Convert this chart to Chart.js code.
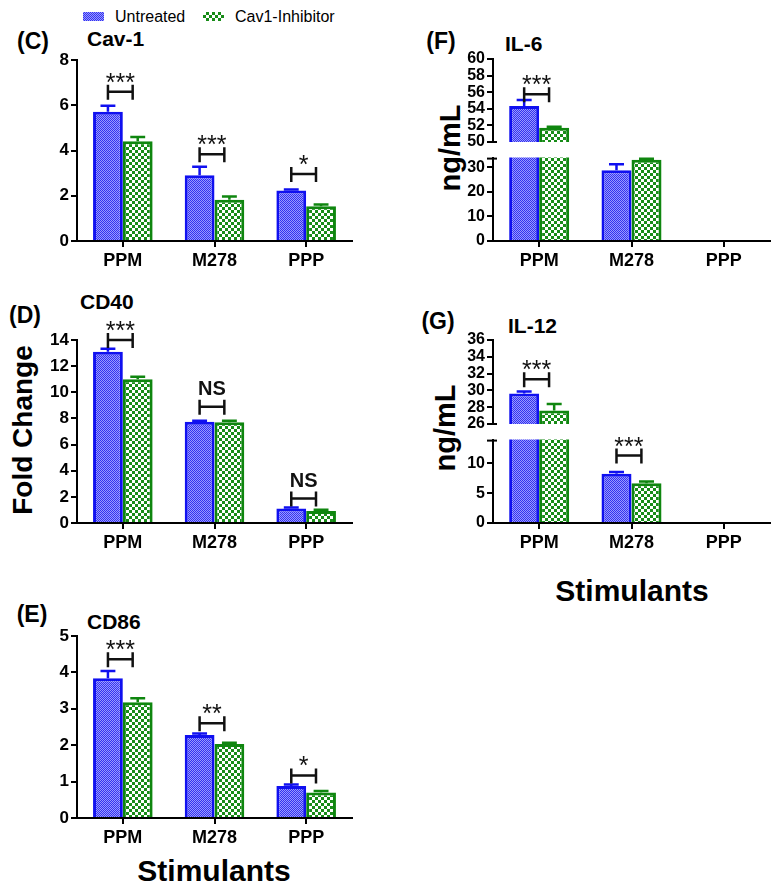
<!DOCTYPE html>
<html><head><meta charset="utf-8">
<script src="https://cdn.jsdelivr.net/npm/chart.js@4/dist/chart.umd.min.js"></script>
<style>
body{margin:0;background:#fff;width:779px;height:892px;position:relative;overflow:hidden;font-family:"Liberation Sans",Arial,sans-serif;}
canvas{position:absolute;}
.t{position:absolute;font-weight:bold;color:#000;line-height:1;white-space:nowrap;}
.c{transform:translate(-50%,-50%);}
.r{transform:translate(-50%,-50%) rotate(-90deg);}
.sw{position:absolute;width:21px;height:9px;}
</style></head><body>
<div class="sw" style="left:83px;top:12px;background:repeating-conic-gradient(#3333f0 0 25%,#9999ff 0 50%) 0 0/2px 2px;"></div>
<div class="t" style="left:115px;top:17px;transform:translateY(-50%);font-weight:normal;font-size:16px;">Untreated</div>
<div class="sw" style="left:203px;top:12px;background:repeating-conic-gradient(#188c18 0 25%,#ffffff 0 50%) 0 0/6px 6px;"></div>
<div class="t" style="left:235px;top:17px;transform:translateY(-50%);font-weight:normal;font-size:16px;">Cav1-Inhibitor</div>

<div class="t c" style="left:33px;top:41px;font-size:23px;">(C)</div>
<div class="t" style="left:87px;top:38px;transform:translateY(-50%);font-size:21px;">Cav-1</div>
<div class="t c" style="left:25px;top:315px;font-size:23px;">(D)</div>
<div class="t" style="left:80px;top:301px;transform:translateY(-50%);font-size:21px;">CD40</div>
<div class="t c" style="left:32px;top:614px;font-size:23px;">(E)</div>
<div class="t" style="left:87px;top:621px;transform:translateY(-50%);font-size:21px;">CD86</div>
<div class="t c" style="left:441px;top:41px;font-size:23px;">(F)</div>
<div class="t" style="left:505px;top:43px;transform:translateY(-50%);font-size:21px;">IL-6</div>
<div class="t c" style="left:438px;top:321px;font-size:23px;">(G)</div>
<div class="t" style="left:508px;top:325px;transform:translateY(-50%);font-size:21px;">IL-12</div>

<div class="t r" style="left:23px;top:430px;font-size:28px;">Fold Change</div>
<div class="t r" style="left:450px;top:148px;font-size:29px;">ng/mL</div>
<div class="t r" style="left:445px;top:428px;font-size:29px;">ng/mL</div>
<div class="t c" style="left:214px;top:871px;font-size:30px;">Stimulants</div>
<div class="t c" style="left:632px;top:591px;font-size:30px;">Stimulants</div>

<script>
const categories = ['PPM', 'M278', 'PPP'];
const seriesNames = ['Untreated', 'Cav1-Inhibitor'];

// (C) Cav-1 fold change
const cav1Untreated = [5.72, 2.91, 2.23];
const cav1UntreatedSEM = [0.26, 0.38, 0.05];
const cav1Inhibitor = [4.41, 1.82, 1.54];
const cav1InhibitorSEM = [0.19, 0.15, 0.08];
const cav1Sig = ['***', '***', '*'];
const cav1SigHeight = [6.6, 3.84, 2.97];
const cav1Ticks = [0, 2, 4, 6, 8];

// (D) CD40 fold change
const cd40Untreated = [13.1, 7.74, 1.1];
const cd40UntreatedSEM = [0.23, 0.08, 0.08];
const cd40Inhibitor = [10.99, 7.7, 0.92];
const cd40InhibitorSEM = [0.2, 0.12, 0.1];
const cd40Sig = ['***', 'NS', 'NS'];
const cd40SigHeight = [14.0, 8.89, 1.87];
const cd40Ticks = [0, 2, 4, 6, 8, 10, 12, 14];

// (E) CD86 fold change
const cd86Untreated = [3.84, 2.28, 0.88];
const cd86UntreatedSEM = [0.2, 0.04, 0.04];
const cd86Inhibitor = [3.18, 2.03, 0.7];
const cd86InhibitorSEM = [0.11, 0.04, 0.04];
const cd86Sig = ['***', '**', '*'];
const cd86SigHeight = [4.36, 2.6, 1.17];
const cd86Ticks = [0, 1, 2, 3, 4, 5];

// (F) IL-6 ng/mL (broken axis)
const il6Untreated = [54.34, 28.8, null];
const il6UntreatedSEM = [0.72, 2.5, null];
const il6Inhibitor = [51.72, 33.1, null];
const il6InhibitorSEM = [0.12, 0.4, null];
const il6Sig = ['***', null, null];
const il6SigHeight = [55.75, null, null];
const il6UpperTicks = [50, 52, 54, 56, 58, 60];
const il6LowerTicks = [0, 10, 20, 30];

// (G) IL-12 ng/mL (broken axis)
const il12Untreated = [29.63, 8.28, null];
const il12UntreatedSEM = [0.24, 0.28, null];
const il12Inhibitor = [27.6, 6.69, null];
const il12InhibitorSEM = [0.77, 0.26, null];
const il12Sig = ['***', '***', null];
const il12SigHeight = [31.34, 11.32, null];
const il12UpperTicks = [26, 28, 30, 32, 34, 36];
const il12LowerTicks = [0, 5, 10];

const FONT = '"Liberation Sans", Arial, sans-serif';
Chart.defaults.font.family = FONT;
const COLORS = ['#1010f0', '#0f860f'];

function makePattern(kind) {
  const c = document.createElement('canvas');
  const g = c.getContext('2d');
  if (kind === 'blue') {
    c.width = 2; c.height = 2;
    g.fillStyle = '#3333f0'; g.fillRect(0, 0, 2, 2);
    g.fillStyle = '#9999ff'; g.fillRect(1, 0, 1, 1); g.fillRect(0, 1, 1, 1);
  } else {
    c.width = 6; c.height = 6;
    g.fillStyle = '#188c18'; g.fillRect(0, 0, 6, 6);
    g.fillStyle = '#ffffff'; g.fillRect(0, 0, 3, 3); g.fillRect(3, 3, 3, 3);
  }
  return document.createElement('canvas').getContext('2d').createPattern(c, 'repeat');
}
const PATS = [makePattern('blue'), makePattern('green')];

function panel(cfg) {
  const cv = document.createElement('canvas');
  cv.width = cfg.w; cv.height = cfg.h;
  cv.style.left = cfg.x + 'px'; cv.style.top = cfg.y + 'px';
  document.body.appendChild(cv);

  const marks = {
    id: 'marks',
    afterDatasetsDraw(chart) {
      const ctx = chart.ctx, y = chart.scales.y, area = chart.chartArea;
      const inRange = v => v != null && v >= y.min - 1e-9 && v <= y.max + 1e-9;
      ctx.save();
      ctx.lineCap = 'butt';
      [0, 1].forEach(d => {
        const meta = chart.getDatasetMeta(d);
        const vals = d ? cfg.b : cfg.a, errs = d ? cfg.be : cfg.ae;
        meta.data.forEach((bar, i) => {
          const v = vals[i], e = errs[i];
          if (v == null || e == null) return;
          const top = v + e;
          if (!inRange(top)) return;
          const y0 = y.getPixelForValue(Math.max(v, y.min));
          const y1 = y.getPixelForValue(top);
          const hw = bar.width / 4;
          ctx.strokeStyle = COLORS[d]; ctx.lineWidth = 2.5;
          ctx.beginPath();
          ctx.moveTo(bar.x, y0); ctx.lineTo(bar.x, y1);
          ctx.moveTo(bar.x - hw, y1); ctx.lineTo(bar.x + hw, y1);
          ctx.stroke();
        });
      });
      const m0 = chart.getDatasetMeta(0);
      cfg.sig.forEach((s, i) => {
        const h = cfg.sh[i];
        if (!s || !inRange(h)) return;
        const bar = m0.data[i];
        const x1 = bar.x, x2 = bar.x + bar.width * 0.83;
        const yb = y.getPixelForValue(h);
        ctx.strokeStyle = '#111'; ctx.lineWidth = 2.5;
        ctx.beginPath();
        ctx.moveTo(x1, yb); ctx.lineTo(x2, yb);
        ctx.moveTo(x1, yb - 7); ctx.lineTo(x1, yb + 8);
        ctx.moveTo(x2, yb - 7); ctx.lineTo(x2, yb + 8);
        ctx.stroke();
        ctx.fillStyle = '#111'; ctx.textAlign = 'center'; ctx.textBaseline = 'alphabetic';
        const xm = (x1 + x2) / 2;
        if (s === 'NS') { ctx.font = 'bold 20px ' + FONT; ctx.fillText(s, xm, yb - 12); }
        else { ctx.font = '25px ' + FONT; ctx.fillText(s, xm, yb - 1); }
      });
      if (cfg.topCap) {
        ctx.strokeStyle = '#000'; ctx.lineWidth = 2;
        ctx.beginPath(); ctx.moveTo(area.left - 6, area.top + 1); ctx.lineTo(area.left + 4, area.top + 1); ctx.stroke();
      }
      if (cfg.bottomCap) {
        ctx.strokeStyle = '#000'; ctx.lineWidth = 2;
        ctx.beginPath(); ctx.moveTo(area.left, area.bottom); ctx.lineTo(area.left + 4, area.bottom); ctx.stroke();
      }
      ctx.restore();
    }
  };

  const gridOpts = { display: true, drawOnChartArea: false, drawTicks: true, tickLength: 6, color: '#000', lineWidth: 2, offset: false };
  const xScale = {
    display: cfg.showX, offset: true,
    grid: gridOpts,
    border: { display: true, color: '#000', width: 2 },
    ticks: { color: '#000', font: { size: 18, weight: 'bold' }, padding: 3, maxRotation: 0, autoSkip: false }
  };
  if (cfg.showX) xScale.afterFit = s => { s.height = cfg.xh; };

  new Chart(cv, {
    type: 'bar',
    data: {
      labels: categories,
      datasets: [0, 1].map(d => ({
        label: seriesNames[d],
        data: d ? cfg.b : cfg.a,
        backgroundColor: PATS[d],
        borderColor: COLORS[d],
        borderWidth: 3,
        borderSkipped: 'start',
        categoryPercentage: 0.65,
        barPercentage: 1.0,
        clip: 0
      }))
    },
    options: {
      responsive: false, animation: false, devicePixelRatio: 1,
      layout: { padding: { top: cfg.pt, right: cfg.pr, bottom: cfg.pb, left: 0 } },
      plugins: { legend: { display: false }, tooltip: { enabled: false } },
      scales: {
        x: xScale,
        y: {
          min: cfg.min, max: cfg.max,
          grid: gridOpts,
          border: { display: true, color: '#000', width: 2 },
          ticks: { color: '#000', font: { size: cfg.tf, weight: 'bold' }, padding: 2, autoSkip: false },
          afterBuildTicks: s => { s.ticks = cfg.ticks.map(v => ({ value: v })); },
          afterFit: s => { s.width = cfg.yw; }
        }
      }
    },
    plugins: [marks]
  });
}

// Left column (chart areas: C 58-241, D 340-523, E 636-818)
panel({ x: 0, y: 48, w: 370, h: 225, yw: 77, pt: 10, pr: 18, pb: 0, xh: 32, showX: true, min: 0, max: 8, ticks: cav1Ticks, tf: 17,
  a: cav1Untreated, ae: cav1UntreatedSEM, b: cav1Inhibitor, be: cav1InhibitorSEM, sig: cav1Sig, sh: cav1SigHeight });
panel({ x: 0, y: 312, w: 370, h: 243, yw: 77, pt: 28, pr: 18, pb: 0, xh: 32, showX: true, min: 0, max: 14, ticks: cd40Ticks, tf: 17,
  a: cd40Untreated, ae: cd40UntreatedSEM, b: cd40Inhibitor, be: cd40InhibitorSEM, sig: cd40Sig, sh: cd40SigHeight });
panel({ x: 0, y: 623, w: 370, h: 227, yw: 77, pt: 13, pr: 18, pb: 0, xh: 32, showX: true, min: 0, max: 5, ticks: cd86Ticks, tf: 17,
  a: cd86Untreated, ae: cd86UntreatedSEM, b: cd86Inhibitor, be: cd86InhibitorSEM, sig: cd86Sig, sh: cd86SigHeight });

// Right column: IL-6 (upper + lower segments)
panel({ x: 380, y: 47, w: 399, h: 107, yw: 113, pt: 12, pr: 9, pb: 12, showX: false, min: 50, max: 60, ticks: il6UpperTicks, tf: 16, bottomCap: true,
  a: il6Untreated, ae: il6UntreatedSEM, b: il6Inhibitor, be: il6InhibitorSEM, sig: il6Sig, sh: il6SigHeight });
panel({ x: 380, y: 146, w: 399, h: 127, yw: 113, pt: 10, pr: 9, pb: 0, xh: 32, showX: true, min: 0, max: 34, ticks: il6LowerTicks, tf: 16, topCap: true,
  a: il6Untreated, ae: il6UntreatedSEM, b: il6Inhibitor, be: il6InhibitorSEM, sig: il6Sig, sh: il6SigHeight });

// IL-12
panel({ x: 380, y: 328, w: 399, h: 108, yw: 113, pt: 12, pr: 9, pb: 12, showX: false, min: 26, max: 36, ticks: il12UpperTicks, tf: 16, bottomCap: true,
  a: il12Untreated, ae: il12UntreatedSEM, b: il12Inhibitor, be: il12InhibitorSEM, sig: il12Sig, sh: il12SigHeight });
panel({ x: 380, y: 428, w: 399, h: 127, yw: 113, pt: 10, pr: 9, pb: 0, xh: 32, showX: true, min: 0, max: 14, ticks: il12LowerTicks, tf: 16, topCap: true,
  a: il12Untreated, ae: il12UntreatedSEM, b: il12Inhibitor, be: il12InhibitorSEM, sig: il12Sig, sh: il12SigHeight });
</script>
</body></html>
